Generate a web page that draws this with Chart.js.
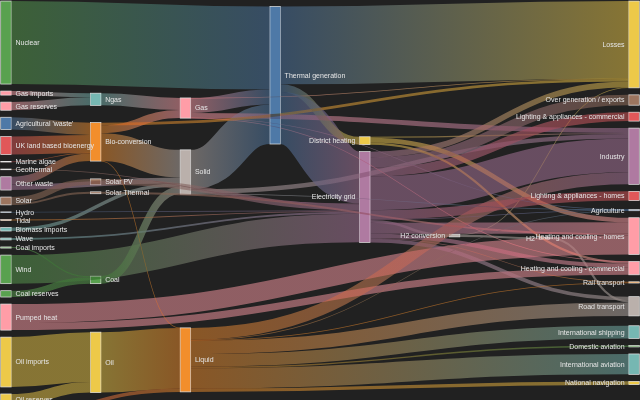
<!DOCTYPE html>
<html><head><meta charset="utf-8">
<script src="https://cdn.jsdelivr.net/npm/chart.js@4/dist/chart.umd.min.js"></script>
<style>html,body{margin:0;padding:0;background:#212121;overflow:hidden}canvas{display:block}</style>
</head><body><canvas id="c" width="640" height="400"></canvas>
<script>
// ---- data: energy flows (source -> target, value) ----
const linkSources = ["Agricultural 'waste'","Bio-conversion","Bio-conversion","Bio-conversion","Bio-conversion","Biofuel imports","Biomass imports","Coal imports","Coal reserves","Coal","District heating","District heating","District heating","Electricity grid","Electricity grid","Electricity grid","Electricity grid","Electricity grid","Electricity grid","Electricity grid","Electricity grid","Electricity grid","Electricity grid","Electricity grid","Gas imports","Gas reserves","Gas","Gas","Gas","Gas","Gas","Geothermal","H2 conversion","H2 conversion","H2","Hydro","Liquid","Liquid","Liquid","Liquid","Liquid","Liquid","Liquid","Liquid","Marine algae","Ngas","Nuclear","Oil imports","Oil reserves","Oil","Other waste","Other waste","Pumped heat","Pumped heat","Solar PV","Solar Thermal","Solar","Solar","Solid","Solid","Solid","Thermal generation","Thermal generation","Thermal generation","Tidal","UK land based bioenergy","Wave","Wind"];
const linkTargets = ["Bio-conversion","Liquid","Losses","Solid","Gas","Liquid","Solid","Coal","Coal","Solid","Industry","Heating and cooling - commercial","Heating and cooling - homes","Over generation / exports","Heating and cooling - homes","H2 conversion","Industry","Road transport","Agriculture","Heating and cooling - commercial","Losses","Rail transport","Lighting & appliances - commercial","Lighting & appliances - homes","Ngas","Ngas","Heating and cooling - commercial","Losses","Thermal generation","Agriculture","Industry","Electricity grid","H2","Losses","Road transport","Electricity grid","Industry","International shipping","Road transport","Domestic aviation","International aviation","Agriculture","National navigation","Rail transport","Bio-conversion","Gas","Thermal generation","Oil","Oil","Liquid","Solid","Bio-conversion","Heating and cooling - homes","Heating and cooling - commercial","Electricity grid","Heating and cooling - homes","Solar Thermal","Solar PV","Agriculture","Thermal generation","Industry","Electricity grid","Losses","District heating","Electricity grid","Bio-conversion","Electricity grid","Electricity grid"];
const linkValues = [124.729,0.597,26.862,280.322,81.144,35,35,11.606,63.965,75.571,10.639,22.505,46.184,104.453,113.726,27.14,342.165,37.797,4.412,40.858,56.691,7.863,90.008,93.494,40.719,82.233,0.129,1.401,151.891,2.096,48.58,7.013,20.897,6.242,20.897,6.995,121.066,128.69,135.835,14.458,206.267,3.64,33.218,4.413,4.375,122.952,839.978,504.287,107.703,611.99,56.587,77.81,193.026,70.672,59.901,19.263,19.263,59.901,0.882,400.12,46.477,525.531,787.129,79.329,9.452,182.01,19.013,289.366];
const groupColors = ["#4e79a7","#f28e2c","#e15759","#76b7b2","#59a14f","#edc949","#af7aa1","#ff9da7","#9c755f","#bab0ab"];

// ---- layout settings (in layout units) ----
const W = 912, H = 600, NODE_W = 15, NODE_PAD = 10, M_TOP = 5, M_BOT = 5, M_LEFT = 1, M_RIGHT = 1, ITER = 6;
const VIEW_TOP = 3.5;
const TEXT = "#e6e6e6";

function sankeyLayout() {
  const sum = (a) => a.reduce((s, l) => s + l.value, 0);
  const names = [...new Set([...linkSources, ...linkTargets])];
  const nodes = names.map((id, i) => ({id, index: i, sourceLinks: [], targetLinks: []}));
  const byId = new Map(nodes.map(n => [n.id, n]));
  const links = linkValues.map((v, i) => ({index: i, source: byId.get(linkSources[i]), target: byId.get(linkTargets[i]), value: v}));
  for (const l of links) { l.source.sourceLinks.push(l); l.target.targetLinks.push(l); }
  for (const n of nodes) n.value = Math.max(sum(n.sourceLinks), sum(n.targetLinks));
  let cur = new Set(nodes), nxt = new Set, x = 0;
  while (cur.size) { for (const n of cur) { n.depth = x; for (const l of n.sourceLinks) nxt.add(l.target); } x++; cur = nxt; nxt = new Set; }
  const x0 = M_LEFT, x1 = W - M_RIGHT, y0 = M_TOP, y1 = H - M_BOT;
  const ncol = Math.max(...nodes.map(n => n.depth)) + 1;
  const kx = (x1 - x0 - NODE_W) / (ncol - 1);
  const columns = Array.from({length: ncol}, () => []);
  for (const n of nodes) {
    const i = n.sourceLinks.length ? n.depth : ncol - 1;
    n.layer = i; n.x0 = x0 + i * kx; n.x1 = n.x0 + NODE_W; columns[i].push(n);
  }
  const py = Math.min(NODE_PAD, (y1 - y0) / (Math.max(...columns.map(c => c.length)) - 1));
  const byBreadth = (a, b) => a.y0 - b.y0;
  const tgtB = (a, b) => byBreadth(a.target, b.target) || a.index - b.index;
  const srcB = (a, b) => byBreadth(a.source, b.source) || a.index - b.index;
  const reorderLinks = (col) => { for (const n of col) { n.sourceLinks.sort(tgtB); n.targetLinks.sort(srcB); } };
  const reorderNodeLinks = (n) => {
    for (const l of n.targetLinks) l.source.sourceLinks.sort(tgtB);
    for (const l of n.sourceLinks) l.target.targetLinks.sort(srcB);
  };
  const ky = Math.min(...columns.map(c => (y1 - y0 - (c.length - 1) * py) / sum(c)));
  for (const col of columns) {
    let y = y0;
    for (const n of col) { n.y0 = y; n.y1 = y + n.value * ky; y = n.y1 + py; for (const l of n.sourceLinks) l.width = l.value * ky; }
    y = (y1 - y + py) / (col.length + 1);
    col.forEach((n, i) => { n.y0 += y * (i + 1); n.y1 += y * (i + 1); });
    reorderLinks(col);
  }
  function targetTop(s, t) {
    let y = s.y0 - (s.sourceLinks.length - 1) * py / 2;
    for (const l of s.sourceLinks) { if (l.target === t) break; y += l.width + py; }
    for (const l of t.targetLinks) { if (l.source === s) break; y -= l.width; }
    return y;
  }
  function sourceTop(s, t) {
    let y = t.y0 - (t.targetLinks.length - 1) * py / 2;
    for (const l of t.targetLinks) { if (l.source === s) break; y += l.width + py; }
    for (const l of s.sourceLinks) { if (l.target === t) break; y -= l.width; }
    return y;
  }
  function topToBottom(col, y, i, a) { for (; i < col.length; ++i) { const n = col[i]; const d = (y - n.y0) * a; if (d > 1e-6) { n.y0 += d; n.y1 += d; } y = n.y1 + py; } }
  function bottomToTop(col, y, i, a) { for (; i >= 0; --i) { const n = col[i]; const d = (n.y1 - y) * a; if (d > 1e-6) { n.y0 -= d; n.y1 -= d; } y = n.y0 - py; } }
  function resolve(col, a) {
    const i = col.length >> 1, s = col[i];
    bottomToTop(col, s.y0 - py, i - 1, a);
    topToBottom(col, s.y1 + py, i + 1, a);
    bottomToTop(col, y1, col.length - 1, a);
    topToBottom(col, y0, 0, a);
  }
  for (let it = 0; it < ITER; ++it) {
    const alpha = Math.pow(0.99, it), beta = Math.max(1 - alpha, (it + 1) / ITER);
    for (let i = ncol - 2; i >= 0; --i) {
      const col = columns[i];
      for (const s of col) {
        let y = 0, w = 0;
        for (const l of s.sourceLinks) { const v = l.value * (l.target.layer - s.layer); y += sourceTop(s, l.target) * v; w += v; }
        if (!(w > 0)) continue;
        const d = (y / w - s.y0) * alpha; s.y0 += d; s.y1 += d; reorderNodeLinks(s);
      }
      col.sort(byBreadth); resolve(col, beta);
    }
    for (let i = 1; i < ncol; ++i) {
      const col = columns[i];
      for (const t of col) {
        let y = 0, w = 0;
        for (const l of t.targetLinks) { const v = l.value * (t.layer - l.source.layer); y += targetTop(l.source, t) * v; w += v; }
        if (!(w > 0)) continue;
        const d = (y / w - t.y0) * alpha; t.y0 += d; t.y1 += d; reorderNodeLinks(t);
      }
      col.sort(byBreadth); resolve(col, beta);
    }
  }
  for (const n of nodes) {
    let a = n.y0, b = n.y0;
    for (const l of n.sourceLinks) { l.y0 = a + l.width / 2; a += l.width; }
    for (const l of n.targetLinks) { l.y1 = b + l.width / 2; b += l.width; }
  }
  const groups = new Map();
  for (const n of nodes) {
    const g = n.id.split(/\W/)[0];
    if (!groups.has(g)) groups.set(g, groupColors[groups.size % groupColors.length]);
    n.color = groups.get(g);
  }
  return {nodes, links};
}
const graph = sankeyLayout();

const sankeyPlugin = {
  id: 'sankeyDraw',
  afterDatasetsDraw(chart) {
    const {ctx, scales: {x, y}} = chart;
    const s = (x.getPixelForValue(W) - x.getPixelForValue(0)) / W;
    ctx.save();
    for (const n of graph.nodes) {
      const px0 = x.getPixelForValue(n.x0), px1 = x.getPixelForValue(n.x1);
      const py0 = y.getPixelForValue(n.y0), py1 = y.getPixelForValue(n.y1);
      ctx.fillStyle = n.color;
      ctx.fillRect(px0, py0, px1 - px0, py1 - py0);
      ctx.strokeStyle = TEXT; ctx.lineWidth = s;
      ctx.strokeRect(px0, py0, px1 - px0, py1 - py0);
    }
    ctx.globalCompositeOperation = 'multiply';
    ctx.globalAlpha = 0.5;
    for (const l of graph.links) {
      const xs = x.getPixelForValue(l.source.x1), xt = x.getPixelForValue(l.target.x0);
      const xm = x.getPixelForValue((l.source.x1 + l.target.x0) / 2);
      const ys = y.getPixelForValue(l.y0), yt = y.getPixelForValue(l.y1);
      const g = ctx.createLinearGradient(xs, 0, xt, 0);
      g.addColorStop(0, l.source.color); g.addColorStop(1, l.target.color);
      ctx.strokeStyle = g;
      ctx.lineWidth = Math.max(1, l.width) * s;
      ctx.beginPath(); ctx.moveTo(xs, ys); ctx.bezierCurveTo(xm, ys, xm, yt, xt, yt); ctx.stroke();
    }
    ctx.globalCompositeOperation = 'source-over';
    ctx.globalAlpha = 1;
    const fs = 10 * s;
    ctx.font = fs + 'px "Liberation Sans", Arial, sans-serif';
    ctx.fillStyle = TEXT; ctx.textBaseline = 'alphabetic';
    for (const n of graph.nodes) {
      const left = n.x0 < W / 2;
      const lx = x.getPixelForValue(left ? n.x1 + 6 : n.x0 - 6);
      const ly = y.getPixelForValue((n.y0 + n.y1) / 2) + 0.35 * fs;
      ctx.textAlign = left ? 'left' : 'right';
      ctx.fillText(n.id, lx, ly);
    }
    ctx.restore();
  }
};

new Chart(document.getElementById('c'), {
  type: 'scatter',
  data: {datasets: [{data: []}]},
  options: {
    responsive: false, animation: false, devicePixelRatio: 1,
    layout: {padding: 0},
    plugins: {legend: {display: false}, tooltip: {enabled: false}},
    scales: {
      x: {type: 'linear', display: false, min: 0, max: W},
      y: {type: 'linear', display: false, reverse: true, min: VIEW_TOP, max: VIEW_TOP + 400 * W / 640}
    }
  },
  plugins: [sankeyPlugin]
});
</script></body></html>
